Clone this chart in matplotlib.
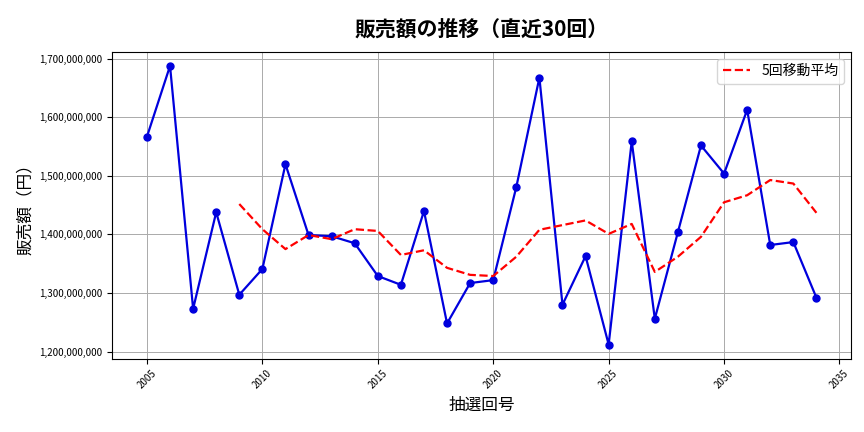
import matplotlib
matplotlib.use('Agg')
import matplotlib.pyplot as plt
from matplotlib.ticker import FuncFormatter

plt.rcParams['font.family'] = 'Noto Sans CJK JP'

#
#  Values (millions of yen)
#

years = list(range(2005, 2035))
sales = [1567, 1688, 1273, 1438, 1297, 1341, 1520, 1399, 1397, 1385,
         1329, 1314, 1440, 1248, 1317, 1322, 1481, 1668, 1280, 1363,
         1212, 1559, 1256, 1404, 1552, 1504, 1613, 1382, 1387, 1292]
ma_years = list(range(2009, 2035))
ma_sales = [1452, 1409, 1375, 1399, 1392, 1409, 1406, 1365, 1373, 1343,
            1331, 1329, 1362, 1408, 1416, 1424, 1401, 1418, 1336, 1362,
            1396, 1455, 1467, 1493, 1487, 1437]

fig, ax = plt.subplots(figsize=(8.64, 4.32), dpi=100)

ax.plot(years, [v * 1e6 for v in sales], color='#0000dd', marker='o',
        markersize=5, linewidth=1.6)
ax.plot(ma_years, [v * 1e6 for v in ma_sales], color='red', linestyle='--',
        linewidth=1.6, label='5回移動平均')

ax.set_title('販売額の推移（直近30回）', fontsize=15, fontweight='bold', pad=12)
ax.set_xlabel('抽選回号', fontsize=12)
ax.set_ylabel('販売額（円）', fontsize=12)
ax.yaxis.set_major_formatter(FuncFormatter(lambda v, p: f'{v:,.0f}'))
ax.tick_params(axis='y', labelsize=7)
ax.tick_params(axis='x', labelsize=7, rotation=45)
ax.set_xlim(2003.5, 2035.5)
ax.set_ylim(1.188e9, 1.712e9)
ax.grid(True, color='#aaaaaa', linewidth=0.7)
ax.legend(loc='upper right', fontsize=10)

fig.subplots_adjust(left=0.13, right=0.985, top=0.88, bottom=0.17)
fig.savefig('out.png')
